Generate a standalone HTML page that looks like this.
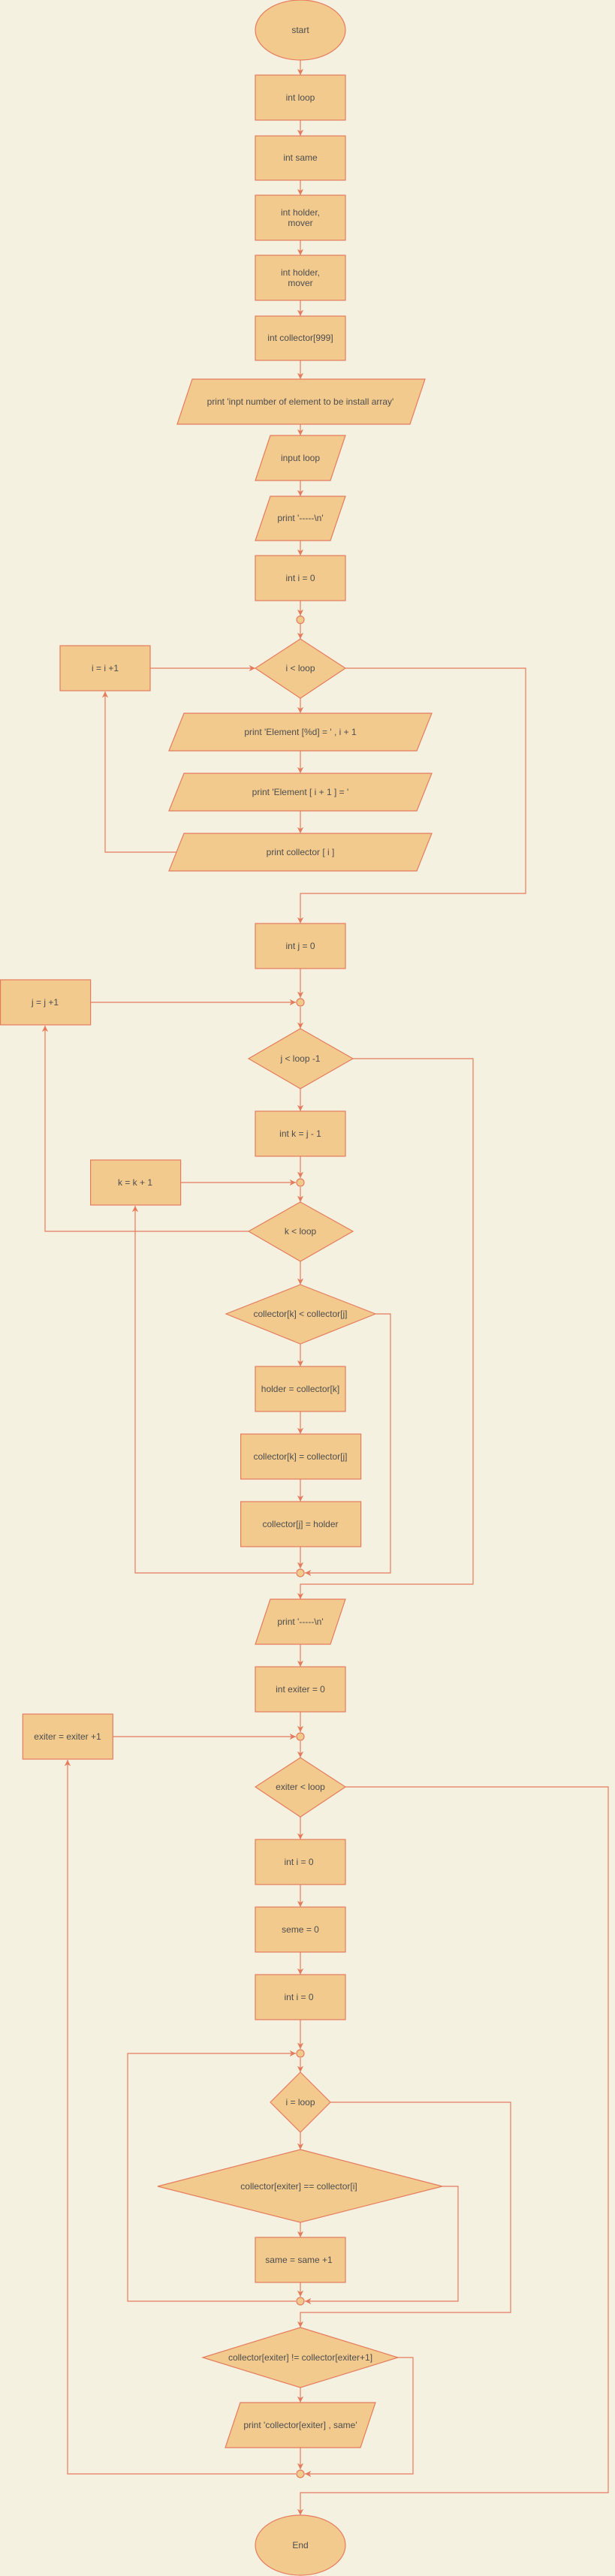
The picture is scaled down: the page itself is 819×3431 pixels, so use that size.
<!DOCTYPE html>
<html><head><meta charset="utf-8"><style>
html,body{margin:0;padding:0;background:#f5f1e0;}
svg{display:block;}
text{font-family:"Liberation Sans",sans-serif;font-size:12px;fill:#4d4d4d;text-anchor:middle;dominant-baseline:central;}
.s{fill:#f2ca8e;stroke:#e57b5d;stroke-width:1.2;}
.l{fill:none;stroke:#e57b5d;stroke-width:1.2;}
</style></head><body>
<svg width="819" height="3431" viewBox="0 0 819 3431" xmlns="http://www.w3.org/2000/svg">
<defs><marker id="a" viewBox="0 0 10 10" refX="10" refY="5" markerWidth="7" markerHeight="7" orient="auto"><path d="M0,0 L10,5 L0,10 L3,5 z" fill="#e57b5d"/></marker></defs>
<rect width="819" height="3431" fill="#f5f1e0"/>
<g class="l" marker-end="url(#a)">
<path d="M400,80 V100"/><path d="M400,160 V181"/><path d="M400,240 V260"/><path d="M400,320 V340"/><path d="M400,400 V421"/><path d="M400,480 V505"/><path d="M400,565 V580"/><path d="M400,640 V661"/><path d="M400,720 V740"/><path d="M400,800 V820"/><path d="M400,831 V851"/>
<path d="M200,890 H340"/>
<path d="M400,930 V950"/><path d="M400,1000 V1030"/><path d="M400,1080 V1110"/>
<path d="M236,1135 H140 V921"/>
<path d="M460,890 H700 V1190 H400 V1230"/>
<path d="M400,1290 V1329"/><path d="M120,1335 H394"/><path d="M400,1341 V1370"/>
<path d="M400,1450 V1480"/><path d="M400,1540 V1569"/><path d="M240,1575 H394"/><path d="M400,1581 V1601"/>
<path d="M331,1640 H60 V1366"/>
<path d="M400,1680 V1711"/><path d="M400,1790 V1820"/><path d="M400,1880 V1910"/><path d="M400,1970 V2000"/><path d="M400,2060 V2089"/>
<path d="M394,2095 H180 V1606"/>
<path d="M500,1750 H520 V2095 H406"/>
<path d="M470,1410 H630 V2110 H400 V2130"/>
<path d="M400,2190 V2220"/><path d="M400,2280 V2307"/><path d="M150,2313 H394"/><path d="M400,2319 V2341"/>
<path d="M400,2420 V2450"/><path d="M400,2510 V2540"/><path d="M400,2600 V2630"/><path d="M400,2690 V2729"/>
<path d="M400,2741 V2760"/>
<path d="M394,3065 H170 V2735 H394"/>
<path d="M400,2840 V2863"/><path d="M400,2960 V2980"/><path d="M400,3040 V3059"/>
<path d="M589,2912 H610 V3065 H406"/>
<path d="M440,2800 H680 V3080 H400 V3100"/>
<path d="M400,3180 V3200"/><path d="M400,3260 V3289"/>
<path d="M530,3140 H550 V3295 H406"/>
<path d="M394,3295 H90 V2344"/>
<path d="M460,2380 H810 V3320 H400 V3350"/>
</g>
<ellipse class="s" cx="400" cy="40" rx="60" ry="40"/><text x="400" y="40">start</text>
<rect class="s" x="340" y="100" width="120" height="60"/><text x="400" y="130">int loop</text>
<rect class="s" x="340" y="181" width="120" height="59"/><text x="400" y="210">int same</text>
<rect class="s" x="340" y="260" width="120" height="60"/><text x="400" y="283">int holder,</text><text x="400" y="297">mover</text>
<rect class="s" x="340" y="340" width="120" height="60"/><text x="400" y="363">int holder,</text><text x="400" y="377">mover</text>
<rect class="s" x="340" y="421" width="120" height="59"/><text x="400" y="450">int collector[999]</text>
<polygon class="s" points="256,505 566,505 546,565 236,565"/><text x="400" y="535">print 'inpt number of element to be install array'</text>
<polygon class="s" points="360,580 460,580 440,640 340,640"/><text x="400" y="610">input loop</text>
<polygon class="s" points="360,661 460,661 440,720 340,720"/><text x="400" y="690">print '-----\n'</text>
<rect class="s" x="340" y="740" width="120" height="60"/><text x="400" y="770">int i = 0</text>
<circle class="s" cx="400" cy="825.5" r="5"/>
<polygon class="s" points="400,851 460,890 400,930 340,890"/><text x="400" y="890">i &lt; loop</text>
<rect class="s" x="80" y="860" width="120" height="60"/><text x="140" y="890">i = i +1</text>
<polygon class="s" points="245,950 575,950 555,1000 225,1000"/><text x="400" y="975">print 'Element [%d] = ' , i + 1</text>
<polygon class="s" points="245,1030 575,1030 555,1080 225,1080"/><text x="400" y="1055">print 'Element [ i + 1 ] = '</text>
<polygon class="s" points="245,1110 575,1110 555,1160 225,1160"/><text x="400" y="1135">print collector [ i ]</text>
<rect class="s" x="340" y="1230" width="120" height="60"/><text x="400" y="1260">int j = 0</text>
<circle class="s" cx="400" cy="1335" r="5"/>
<rect class="s" x="0.6" y="1305" width="120" height="60"/><text x="60" y="1335">j = j +1</text>
<polygon class="s" points="400,1370 470,1410 400,1450 331,1410"/><text x="400" y="1410">j &lt; loop -1</text>
<rect class="s" x="340" y="1480" width="120" height="60"/><text x="400" y="1510">int k = j - 1</text>
<circle class="s" cx="400" cy="1575" r="5"/>
<rect class="s" x="120.6" y="1545" width="120" height="60"/><text x="180" y="1575">k = k + 1</text>
<polygon class="s" points="400,1601 470,1640 400,1680 331,1640"/><text x="400" y="1640">k &lt; loop</text>
<polygon class="s" points="400,1711 500,1750 400,1790 301,1750"/><text x="400" y="1750">collector[k] &lt; collector[j]</text>
<rect class="s" x="340" y="1820" width="120" height="60"/><text x="400" y="1850">holder = collector[k]</text>
<rect class="s" x="320.6" y="1910" width="160" height="60"/><text x="400" y="1940">collector[k] = collector[j]</text>
<rect class="s" x="320.6" y="2000" width="160" height="60"/><text x="400" y="2030">collector[j] = holder</text>
<circle class="s" cx="400" cy="2095" r="5"/>
<polygon class="s" points="360,2130 460,2130 440,2190 340,2190"/><text x="400" y="2160">print '-----\n'</text>
<rect class="s" x="340" y="2220" width="120" height="60"/><text x="400" y="2250">int exiter = 0</text>
<circle class="s" cx="400" cy="2313" r="5"/>
<rect class="s" x="30.3" y="2283" width="120" height="60"/><text x="90" y="2313">exiter = exiter +1</text>
<polygon class="s" points="400,2341 460,2380 400,2420 340,2380"/><text x="400" y="2380">exiter &lt; loop</text>
<rect class="s" x="340" y="2450" width="120" height="60"/><text x="398" y="2480">int i = 0</text>
<rect class="s" x="340" y="2540" width="120" height="60"/><text x="400" y="2570">seme  = 0</text>
<rect class="s" x="340" y="2630" width="120" height="60"/><text x="398" y="2660">int i = 0</text>
<circle class="s" cx="400" cy="2735" r="5"/>
<polygon class="s" points="400,2760 440,2800 400,2840 360,2800"/><text x="400" y="2800">i = loop</text>
<polygon class="s" points="400,2863 589,2912 400,2960 210,2912"/><text x="398" y="2912">collector[exiter]  == collector[i]</text>
<rect class="s" x="340" y="2980" width="120" height="60"/><text x="398" y="3010">same = same +1</text>
<circle class="s" cx="400" cy="3065" r="5"/>
<polygon class="s" points="400,3100 530,3140 400,3180 270,3140"/><text x="400" y="3140">collector[exiter] != collector[exiter+1]</text>
<polygon class="s" points="320,3200 500,3200 480,3260 300,3260"/><text x="400" y="3230">print 'collector[exiter] , same'</text>
<circle class="s" cx="400" cy="3295" r="5"/>
<ellipse class="s" cx="400" cy="3390" rx="60" ry="40"/><text x="400" y="3390">End</text>
</svg>
</body></html>
